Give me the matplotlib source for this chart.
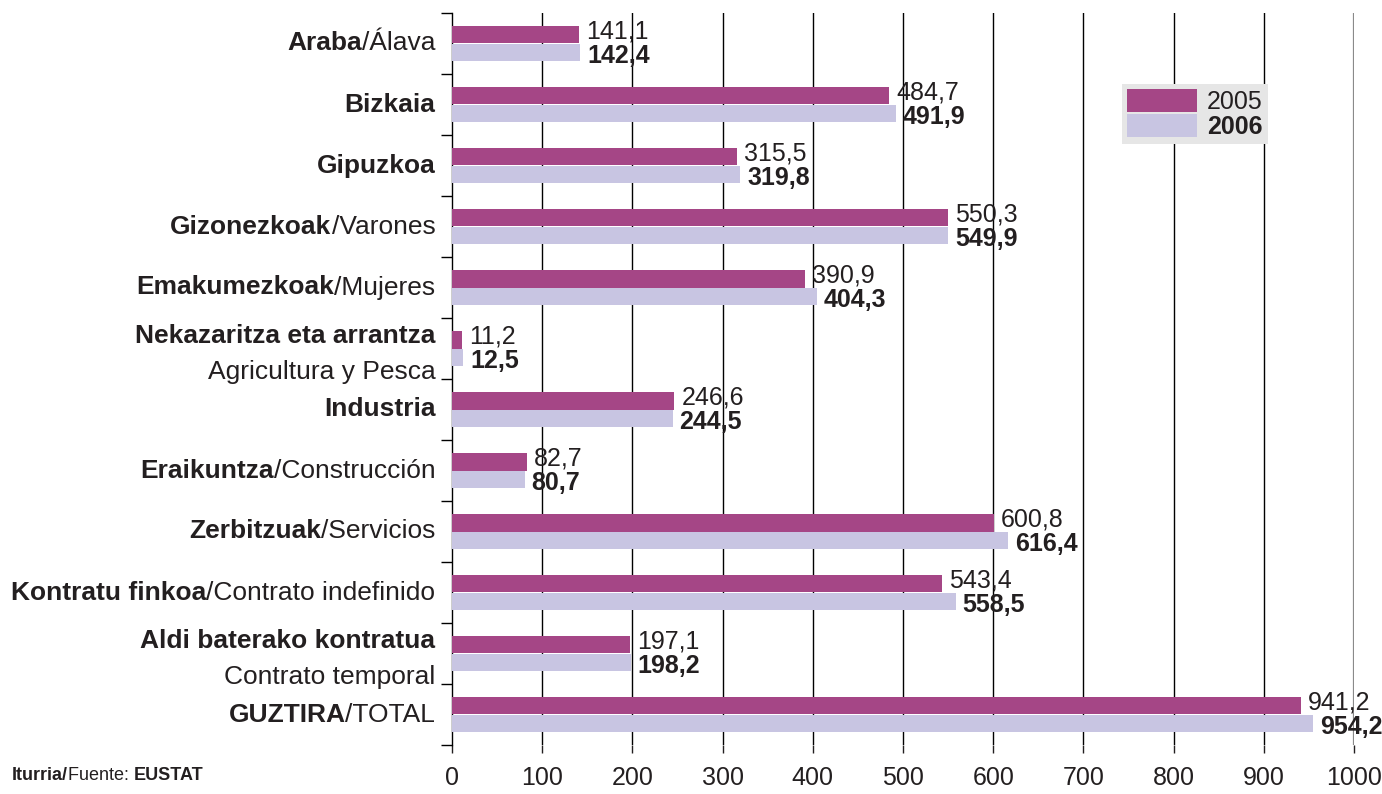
import numpy as np
import matplotlib
matplotlib.use("Agg")
import matplotlib.pyplot as plt
from matplotlib.offsetbox import TextArea, HPacker, AnnotationBbox

plt.rcParams["font.family"] = ["Liberation Sans", "DejaVu Sans"]
TXT = "#231f20"

# category labels: (bold part, regular part, two_lines)
labels = [
    ("Araba", "/Álava", False),
    ("Bizkaia", "", False),
    ("Gipuzkoa", "", False),
    ("Gizonezkoak", "/Varones", False),
    ("Emakumezkoak", "/Mujeres", False),
    ("Nekazaritza eta arrantza", "Agricultura y Pesca", True),
    ("Industria", "", False),
    ("Eraikuntza", "/Construcción", False),
    ("Zerbitzuak", "/Servicios", False),
    ("Kontratu finkoa", "/Contrato indefinido", False),
    ("Aldi baterako kontratua", "Contrato temporal", True),
    ("GUZTIRA", "/TOTAL", False),
]
v2005 = [141.1, 484.7, 315.5, 550.3, 390.9, 11.2, 246.6, 82.7, 600.8, 543.4, 197.1, 941.2]
v2006 = [142.4, 491.9, 319.8, 549.9, 404.3, 12.5, 244.5, 80.7, 616.4, 558.5, 198.2, 954.2]
years = ["2005", "2006"]
xticks = list(range(0, 1001, 100))

c2005 = "#a54686"
c2006 = "#c8c5e2"
fs_cat = 19
fs = 18

fig = plt.figure(figsize=(13.82, 7.94), dpi=100)
ax = fig.add_axes([452 / 1382, 49 / 794, 902 / 1382, 732 / 794])

y = np.arange(len(labels))
h = 0.28
ax.barh(y - h / 2, v2005, height=h, color=c2005, label=years[0], zorder=3)
ax.barh(y + h / 2, v2006, height=h, color=c2006, label=years[1], zorder=3)

ax.set_xlim(0, 1000)
ax.set_ylim(len(labels) - 0.5, -0.5)

for x in xticks[1:-1]:
    ax.axvline(x, color="black", lw=1, zorder=1)
ax.axvline(1000, color="#8a8a8a", lw=1.6, zorder=1)

for s in ["top", "right", "bottom"]:
    ax.spines[s].set_visible(False)
ax.spines["left"].set_linewidth(1)

ax.set_xticks(xticks)
ax.set_xticklabels([str(t) for t in xticks])
ax.tick_params(axis="x", length=6, width=1, pad=9, labelsize=fs, colors=TXT)
ax.set_yticks(np.arange(len(labels) + 1) - 0.5)
ax.set_yticklabels([])
ax.tick_params(axis="y", length=8, width=1)

# value labels
for i in range(len(labels)):
    ax.annotate(f"{v2005[i]:.1f}".replace(".", ","), (v2005[i], i - h / 2),
                xytext=(5, 2.5), textcoords="offset points", va="center", ha="left",
                fontsize=fs, color=TXT, zorder=4)
    ax.annotate(f"{v2006[i]:.1f}".replace(".", ","), (v2006[i], i + h / 2),
                xytext=(5, -3), textcoords="offset points", va="center", ha="left",
                fontsize=fs, color=TXT, fontweight="bold", zorder=4)

# category labels
trans = ax.get_yaxis_transform()
for i, (b, r, two) in enumerate(labels):
    if two:
        ax.annotate(b, (0, i - 0.2), xycoords=trans, xytext=(-12, 0),
                    textcoords="offset points", ha="right", va="center",
                    fontsize=fs_cat, fontweight="bold", color=TXT, annotation_clip=False)
        ax.annotate(r, (0, i + 0.38), xycoords=trans, xytext=(-12, 0),
                    textcoords="offset points", ha="right", va="center",
                    fontsize=fs_cat, color=TXT, annotation_clip=False)
    else:
        parts = [TextArea(b, textprops=dict(fontsize=fs_cat, fontweight="bold", color=TXT))]
        if r:
            parts.append(TextArea(r, textprops=dict(fontsize=fs_cat, color=TXT)))
        box = HPacker(children=parts, sep=0, pad=0, align="baseline")
        ab = AnnotationBbox(box, (0, i), xycoords=trans, xybox=(-12, 0),
                            boxcoords="offset points", box_alignment=(1, 0.5),
                            frameon=False, pad=0, annotation_clip=False)
        ax.add_artist(ab)

# legend
leg = ax.legend(loc="upper left", bbox_to_anchor=(0.743, 0.903), borderaxespad=0,
                fontsize=fs, handlelength=2.8, handleheight=1.05, labelspacing=0,
                handletextpad=0.4, borderpad=0.2, frameon=True, fancybox=False)
leg.get_frame().set_facecolor("#e6e6e6")
leg.get_frame().set_edgecolor("none")
leg.get_frame().set_alpha(1)
for t in leg.get_texts():
    t.set_color(TXT)
leg.get_texts()[1].set_fontweight("bold")

# source
fparts = [
    TextArea("Iturria/", textprops=dict(fontsize=13, fontweight="bold", color=TXT)),
    TextArea("Fuente: ", textprops=dict(fontsize=13, color=TXT)),
    TextArea("EUSTAT", textprops=dict(fontsize=13, fontweight="bold", color=TXT)),
]
fbox = HPacker(children=fparts, sep=0, pad=0, align="baseline")
fig.add_artist(AnnotationBbox(fbox, (12, 19), xycoords="figure pixels",
                              box_alignment=(0, 0.5), frameon=False, pad=0))

fig.savefig("out.png", dpi=100)
